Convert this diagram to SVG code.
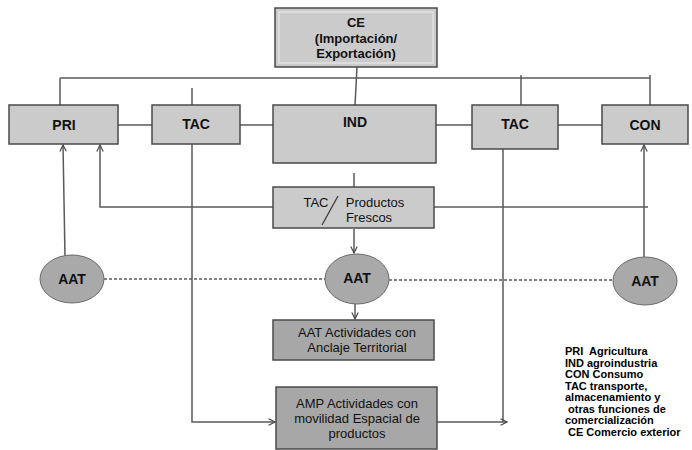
<svg xmlns="http://www.w3.org/2000/svg" width="692" height="450" viewBox="0 0 692 450">
<style>
.box{fill:#cbcbcb;stroke:#4a4a4a;stroke-width:1.5}
.dbox{fill:#a7a7a7;stroke:#4a4a4a;stroke-width:1.5}
.circ{fill:#a9a9a9;stroke:#6a6a6a;stroke-width:1}
.ln{fill:none;stroke:#5a5a5a;stroke-width:1.5}
.dash{fill:none;stroke:#5a5a5a;stroke-width:1.3;stroke-dasharray:3 2}
.b{font-family:"Liberation Sans",Arial,sans-serif;font-weight:bold;font-size:14px;fill:#111;text-anchor:middle}
.bc{font-family:"Liberation Sans",Arial,sans-serif;font-weight:bold;font-size:13px;fill:#111;text-anchor:middle}
.r{font-family:"Liberation Sans",Arial,sans-serif;font-size:13px;fill:#111;text-anchor:middle}
.leg{font-family:"Liberation Sans",Arial,sans-serif;font-weight:bold;font-size:11px;fill:#000}
</style>
<defs>
<marker id="ar" viewBox="0 0 10 10" refX="9" refY="5" markerWidth="8" markerHeight="8" orient="auto" markerUnits="userSpaceOnUse">
<path d="M1,1 L9,5 L1,9" fill="none" stroke="#4a4a4a" stroke-width="1.5"/>
</marker>
</defs>
<g id="connectors">
<path class="ln" d="M60,78 H650"/>
<path class="ln" d="M357,67 L355,105"/>
<path class="ln" d="M60,78 V105"/>
<path class="ln" d="M521,75 V105"/>
<path class="ln" d="M650,75 V105"/>
<path class="ln" d="M192,88 V105"/>
<path class="ln" d="M118,125 H152"/>
<path class="ln" d="M240,125 H273"/>
<path class="ln" d="M436,125 H472"/>
<path class="ln" d="M558,125 H602"/>
<path class="ln" d="M354,173 V187"/>
<path class="ln" d="M273,207 H100 V145" marker-end="url(#ar)"/>
<path class="ln" d="M434,207 H648"/>
<path class="ln" d="M65,256 L63,145" marker-end="url(#ar)"/>
<path class="ln" d="M644,257 V145" marker-end="url(#ar)"/>
<path class="ln" d="M354,229 V253" marker-end="url(#ar)"/>
<path class="ln" d="M355,304 V319" marker-end="url(#ar)"/>
<path class="dash" d="M104,279 H325"/>
<path class="dash" d="M389,280 H613"/>
<path class="ln" d="M192,144 V422 H275" marker-end="url(#ar)"/>
<path class="ln" d="M503,149 V422"/>
<path class="ln" d="M437,422 H507" marker-end="url(#ar)"/>
</g>
<g id="CE">
<rect class="box" x="275" y="8" width="162" height="59"/>
<rect x="279" y="12" width="154" height="51" fill="none" stroke="#e8e8e8" stroke-width="1.2"/>
<text class="bc" x="356" y="27">CE</text>
<text class="bc" x="356" y="43">(Importación/</text>
<text class="bc" x="356" y="58">Exportación)</text>
</g>
<g id="PRI">
<rect class="box" x="9" y="105" width="109" height="39"/>
<text class="b" x="64" y="130">PRI</text>
</g>
<g id="TAC1">
<rect class="box" x="152" y="105" width="88" height="39"/>
<text class="b" x="196" y="129">TAC</text>
</g>
<g id="IND">
<rect class="box" x="273" y="105" width="163" height="58"/>
<text class="b" x="355" y="127">IND</text>
</g>
<g id="TAC2">
<rect class="box" x="472" y="105" width="86" height="44"/>
<text class="b" x="515" y="129">TAC</text>
</g>
<g id="CON">
<rect class="box" x="602" y="105" width="86" height="39"/>
<text class="b" x="645" y="130">CON</text>
</g>
<g id="TACPF">
<rect class="box" x="273" y="187" width="161" height="41"/>
<text class="r" x="316" y="207">TAC</text>
<path d="M338,196 L322,225" fill="none" stroke="#333" stroke-width="1.2"/>
<text class="r" x="375" y="207">Productos</text>
<text class="r" x="369" y="222">Frescos</text>
</g>
<g id="AAT1">
<ellipse class="circ" cx="72" cy="279" rx="32" ry="24"/>
<text class="b" x="72" y="284">AAT</text>
</g>
<g id="AAT2">
<ellipse class="circ" cx="357" cy="279" rx="32" ry="25"/>
<text class="b" x="357" y="283">AAT</text>
</g>
<g id="AAT3">
<ellipse class="circ" cx="645" cy="281" rx="32" ry="24"/>
<text class="b" x="645" y="286">AAT</text>
</g>
<g id="AATbox">
<rect class="dbox" x="273" y="320" width="161" height="40"/>
<text class="r" x="357" y="337">AAT Actividades con</text>
<text class="r" x="357" y="352">Anclaje Territorial</text>
</g>
<g id="AMP">
<rect class="dbox" x="276" y="387" width="161" height="62"/>
<text class="r" x="357" y="408">AMP Actividades con</text>
<text class="r" x="357" y="423">movilidad Espacial de</text>
<text class="r" x="357" y="438">productos</text>
</g>
<g id="legend">
<text class="leg" x="565" y="355" xml:space="preserve">PRI  Agricultura</text>
<text class="leg" x="565" y="366.5">IND agroindustria</text>
<text class="leg" x="565" y="378">CON Consumo</text>
<text class="leg" x="565" y="389.5">TAC transporte,</text>
<text class="leg" x="565" y="401">almacenamiento y</text>
<text class="leg" x="568" y="412.5">otras funciones de</text>
<text class="leg" x="565" y="424">comercialización</text>
<text class="leg" x="568" y="435.5">CE Comercio exterior</text>
</g>
</svg>
